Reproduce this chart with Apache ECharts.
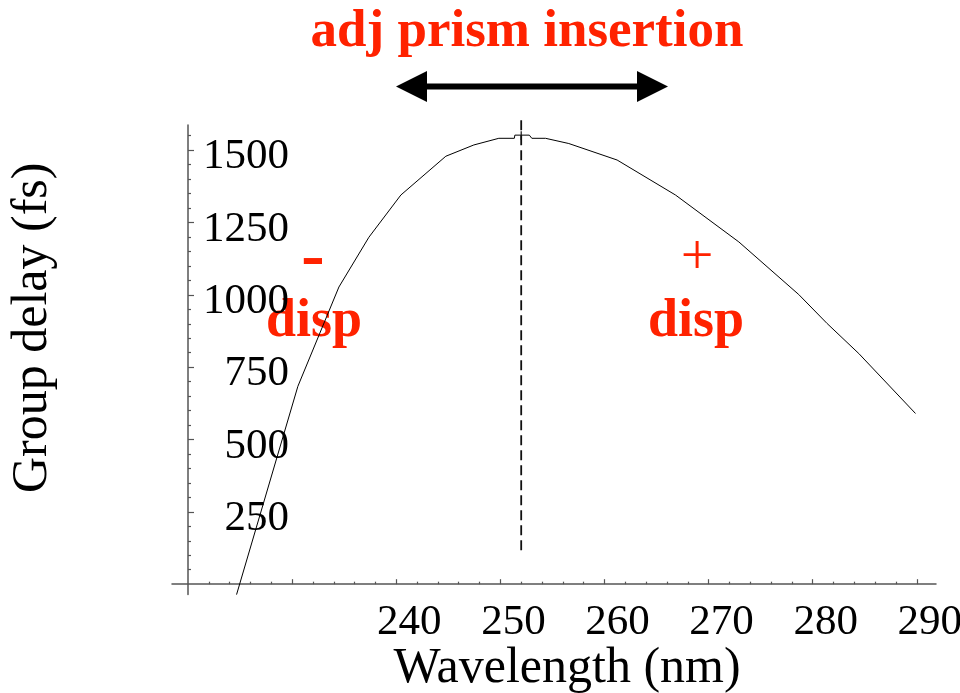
<!DOCTYPE html>
<html>
<head>
<meta charset="utf-8">
<script src="https://cdn.jsdelivr.net/npm/echarts@6/dist/echarts.min.js"></script>
<style>
html,body{margin:0;padding:0;background:#fff;}
#chart{width:960px;height:693px;}
</style>
</head>
<body>
<div id="chart"></div>
<script>
// Curve: wavelength (nm) vs group delay (fs)
var wavelength = [224.66, 230.55, 234.49, 237.37, 240.44, 244.76, 247.45, 249.85, 251.34, 251.39, 252.78, 253.02, 254.34, 256.57, 261.21, 266.82, 272.90, 278.66, 281.38, 284.43, 289.87];
var groupDelay = [-36, 684, 1027, 1199, 1345, 1479, 1518, 1541, 1541, 1552, 1552, 1541, 1541, 1523, 1466, 1345, 1183, 1001, 901, 797, 590];

// Vertical dashed marker at the peak wavelength
var peakWavelength = [252, 252];
var peakDashDelay = [117, 1614];
var peakCrossDelay = [1535, 1565];

// Axis ticks
var xMajorTicks = [230, 240, 250, 260, 270, 280, 290];
var xLabelValues = [240, 250, 260, 270, 280, 290];
var xMinorTicks = [222, 224, 226, 228, 232, 234, 236, 238, 242, 244, 246, 248, 252, 254, 256, 258, 262, 264, 266, 268, 272, 274, 276, 278, 282, 284, 286, 288];
var yMajorTicks = [250, 500, 750, 1000, 1250, 1500];
var yMinorTicks = [50, 100, 150, 200, 300, 350, 400, 450, 550, 600, 650, 700, 800, 850, 900, 950, 1050, 1100, 1150, 1200, 1300, 1350, 1400, 1450, 1550];

var curve = wavelength.map(function (w, i) { return [w, groupDelay[i]]; });
var dash = peakWavelength.map(function (w, i) { return [w, peakDashDelay[i]]; });
var cross = peakWavelength.map(function (w, i) { return [w, peakCrossDelay[i]]; });

var serif = 'Liberation Serif';
var red = '#ff2200';
var axisCol = '#555';
var xMin = 218.46, xMax = 291.84, yMin = -36, yMax = 1587;
function plain(v) { return String(v); }

var chart = echarts.init(document.getElementById('chart'));
chart.setOption({
  animation: false,
  backgroundColor: '#fff',
  grid: {left: 172, top: 125, width: 764, height: 469.6, containLabel: false, outerBoundsMode: 'none'},
  xAxis: [{
    type: 'value', min: xMin, max: xMax, position: 'bottom',
    axisLine: {show: true, onZero: true, lineStyle: {color: axisCol, width: 1.5}},
    axisTick: {show: true, inside: true, length: 5, customValues: xMajorTicks, lineStyle: {color: axisCol, width: 1.2}},
    axisLabel: {show: true, customValues: xLabelValues, formatter: plain, margin: 7, padding: [0, 0, 0, 26],
      fontFamily: serif, fontSize: 43, color: '#000'},
    splitLine: {show: false},
    name: 'Wavelength (nm)', nameLocation: 'middle', nameGap: 49, nameMoveOverlap: false,
    nameTextStyle: {fontFamily: serif, fontSize: 50, color: '#000', padding: [0, 0, 0, 26]}
  }, {
    type: 'value', min: xMin, max: xMax, position: 'bottom',
    axisLine: {show: false, onZero: true},
    axisTick: {show: true, inside: true, length: 2.5, customValues: xMinorTicks, lineStyle: {color: axisCol, width: 1.2}},
    axisLabel: {show: false},
    splitLine: {show: false}
  }],
  yAxis: [{
    type: 'value', min: yMin, max: yMax, position: 'left', offset: -16,
    axisLine: {show: true, onZero: false, lineStyle: {color: axisCol, width: 1.5}},
    axisTick: {show: true, inside: true, length: 6, customValues: yMajorTicks, lineStyle: {color: axisCol, width: 1.2}},
    axisLabel: {show: true, customValues: yMajorTicks, formatter: plain, margin: -101,
      verticalAlign: 'top', lineHeight: 14,
      fontFamily: serif, fontSize: 43, color: '#000'},
    splitLine: {show: false},
    name: 'Group delay (fs)', nameLocation: 'middle', nameRotate: 90, nameGap: 130, nameMoveOverlap: false,
    nameTextStyle: {fontFamily: serif, fontSize: 50, color: '#000', padding: [0, 0, 0, 64]}
  }, {
    type: 'value', min: yMin, max: yMax, position: 'left', offset: -16,
    axisLine: {show: false, onZero: false},
    axisTick: {show: true, inside: true, length: 3, customValues: yMinorTicks, lineStyle: {color: axisCol, width: 1.2}},
    axisLabel: {show: false},
    splitLine: {show: false}
  }],
  series: [{
    type: 'line', xAxisIndex: 0, yAxisIndex: 0, data: curve, symbol: 'none', smooth: false,
    lineStyle: {color: '#000', width: 1}, clip: true, silent: true
  }, {
    type: 'line', xAxisIndex: 0, yAxisIndex: 0, data: dash, symbol: 'none',
    lineStyle: {color: '#111', width: 1.8, type: [10, 5]}, clip: false, silent: true
  }, {
    type: 'line', xAxisIndex: 0, yAxisIndex: 0, data: cross, symbol: 'none',
    lineStyle: {color: '#111', width: 1.2}, clip: false, silent: true
  }],
  graphic: [
    {type: 'text', style: {text: 'adj prism insertion', x: 527, y: 32, textAlign: 'center', textVerticalAlign: 'middle',
      font: 'bold 53px "Liberation Serif"', fill: red}},
    {type: 'line', shape: {x1: 420, y1: 86.5, x2: 645, y2: 86.5}, style: {stroke: '#000', lineWidth: 6}},
    {type: 'polygon', shape: {points: [[396, 86.5], [427, 71], [427, 102]]}, style: {fill: '#000'}},
    {type: 'polygon', shape: {points: [[668, 86.5], [637, 71], [637, 102]]}, style: {fill: '#000'}},
    {type: 'text', style: {text: '-', x: 313, y: 260, textAlign: 'center', textVerticalAlign: 'middle',
      font: 'bold 70px "Liberation Serif"', fill: red}},
    {type: 'text', style: {text: 'disp', x: 314, y: 322, textAlign: 'center', textVerticalAlign: 'middle',
      font: 'bold 54px "Liberation Serif"', fill: red}},
    {type: 'text', style: {text: '+', x: 697, y: 259, textAlign: 'center', textVerticalAlign: 'middle',
      font: '58px "Liberation Serif"', fill: red}},
    {type: 'text', style: {text: 'disp', x: 696, y: 322, textAlign: 'center', textVerticalAlign: 'middle',
      font: 'bold 54px "Liberation Serif"', fill: red}}
  ]
});
</script>
</body>
</html>
